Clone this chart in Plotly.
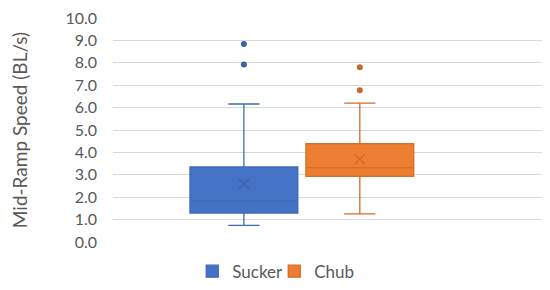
import plotly.graph_objects as go

series = ["Sucker", "Chub"]
positions = [1, 2]
lower_whisker = [0.74, 1.26]
q1 = [1.29, 2.93]
median = [1.84, 3.32]
q3 = [3.35, 4.39]
upper_whisker = [6.16, 6.2]
mean = [2.6, 3.7]
outliers = [[7.92, 8.84], [6.77, 7.8]]

fill_colors = ["#4472C4", "#ED7D31"]
line_colors = ["#3F69B5", "#D46E29"]
mark_colors = ["#3A62A8", "#C8672A"]

FONT = "Lato, Noto Sans, sans-serif"

fig = go.Figure()

for i, name in enumerate(series):
    fig.add_trace(
        go.Box(
            name=name,
            x=[positions[i]],
            q1=[q1[i]],
            median=[median[i]],
            q3=[q3[i]],
            lowerfence=[lower_whisker[i]],
            upperfence=[upper_whisker[i]],
            width=0.93,
            whiskerwidth=0.29,
            fillcolor=fill_colors[i],
            line=dict(color=line_colors[i], width=1.3),
            hoverinfo="skip",
        )
    )
    fig.add_trace(
        go.Scatter(
            x=[positions[i]] * len(outliers[i]),
            y=outliers[i],
            mode="markers",
            marker=dict(color=mark_colors[i], size=6),
            showlegend=False,
        )
    )
    fig.add_trace(
        go.Scatter(
            x=[positions[i]],
            y=[mean[i]],
            mode="markers",
            marker=dict(
                symbol="x-thin",
                size=10,
                line=dict(color=mark_colors[i], width=1.2),
            ),
            showlegend=False,
        )
    )

# the page body adds an 8px offset, so margins are set a bit tighter
fig.update_layout(
    width=550,
    height=290,
    margin=dict(l=105, r=15, t=10, b=56),
    plot_bgcolor="white",
    paper_bgcolor="white",
    font=dict(family=FONT, color="#595959"),
    showlegend=True,
    legend=dict(
        orientation="h",
        x=0.375,
        xanchor="center",
        yref="container",
        y=0.153,
        yanchor="top",
        font=dict(size=17, color="#595959"),
        itemwidth=30,
        entrywidth=37,
    ),
)

fig.update_xaxes(
    range=[-0.129, 3.58],
    showticklabels=False,
    showgrid=False,
    zeroline=False,
    showline=False,
    automargin=False,
)

fig.update_yaxes(
    range=[0, 10],
    dtick=1,
    tickformat=".1f",
    showgrid=True,
    gridcolor="#D9D9D9",
    gridwidth=1,
    zeroline=False,
    showline=False,
    automargin=False,
    ticklabeloverflow="allow",
    ticklabelstandoff=15,
    tickfont=dict(size=16, color="#595959"),
    title=dict(text="Mid-Ramp Speed (BL/s)", font=dict(size=19, color="#595959"), standoff=38),
)

fig.write_html("out.html")
